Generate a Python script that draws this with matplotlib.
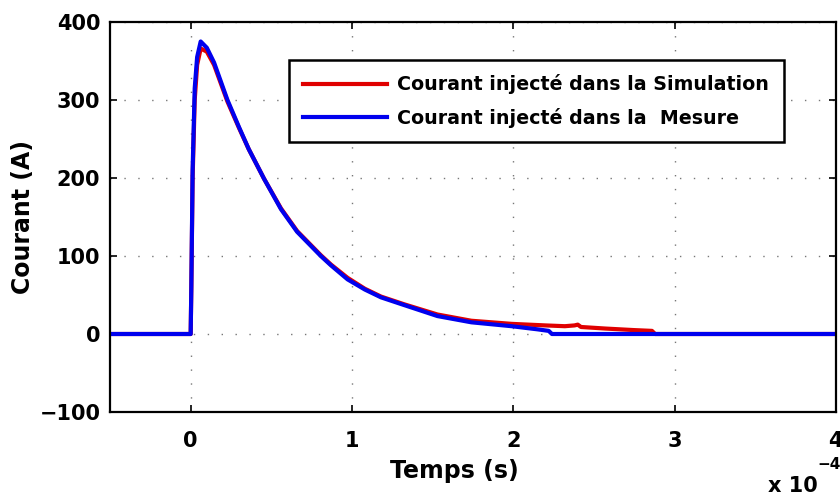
import matplotlib
matplotlib.use("Agg")
import matplotlib.pyplot as plt

# time in units of 1e-4 s
t_sim = [-0.5, 0.0, 0.004, 0.012, 0.025, 0.04, 0.062, 0.10, 0.145, 0.228, 0.30, 0.36,
         0.455, 0.56, 0.66, 0.807, 0.87, 0.973, 1.08, 1.18, 1.325, 1.53, 1.74, 1.99,
         2.2, 2.32, 2.38, 2.40, 2.42, 2.57, 2.75, 2.86, 2.88, 4.0]
i_sim = [0, 0, 60, 200, 300, 345, 366, 362, 345, 298, 264, 237,
         199, 161, 132, 101, 89, 72, 58, 48, 38, 25, 17, 13,
         11, 10, 11, 12, 9, 7, 5, 4, 0, 0]

t_mes = [-0.5, 0.0, 0.004, 0.012, 0.025, 0.04, 0.062, 0.10, 0.145, 0.228, 0.30, 0.36,
         0.455, 0.56, 0.66, 0.807, 0.87, 0.973, 1.08, 1.18, 1.325, 1.53, 1.74, 1.99,
         2.15, 2.22, 2.24, 4.0]
i_mes = [0, 0, 60, 210, 315, 355, 375, 367, 348, 300, 265, 237,
         199, 160, 131, 100, 88, 70, 57, 47, 37, 23, 15, 10,
         6, 4, 0, 0]

xticks = [0, 1, 2, 3, 4]
yticks = [-100, 0, 100, 200, 300, 400]

plt.rcParams['font.family'] = ['DejaVu Sans']
plt.rcParams['font.weight'] = 'bold'

fig = plt.figure(figsize=(8.4, 5.0), dpi=100)
ax = fig.add_axes([0.131, 0.176, 0.864, 0.780])

ax.plot(t_sim, i_sim, color='#e00000', lw=3, label='Courant injecté dans la Simulation')
ax.plot(t_mes, i_mes, color='#0000ee', lw=3, label='Courant injecté dans la  Mesure')

ax.set_xlim(-0.5, 4)
ax.set_ylim(-100, 400)
ax.set_xticks(xticks)
ax.set_yticks(yticks)
ax.set_xticklabels([str(v) for v in xticks], fontsize=15, fontweight='bold')
ax.set_yticklabels(['\u2212100' if v < 0 else str(v) for v in yticks], fontsize=15, fontweight='bold')
ax.tick_params(axis='x', direction='in', top=True, length=5, width=1.2, pad=14)
ax.tick_params(axis='y', direction='in', right=True, length=5, width=1.2, pad=7)
for s in ax.spines.values():
    s.set_linewidth(1.6)
ax.grid(True, linestyle=(0, (1, 9)), color='#777777', linewidth=1.0)

ax.set_xlabel('Temps (s)', fontsize=17, fontweight='bold')
ax.xaxis.set_label_coords(0.475, -0.12)
ax.set_ylabel('Courant (A)', fontsize=17, fontweight='bold')
ax.yaxis.set_label_coords(-0.104, 0.5)

leg = ax.legend(loc='upper left', bbox_to_anchor=(0.2466, 0.9026), borderaxespad=0,
                handlelength=4.4, handletextpad=0.55, borderpad=0.75, labelspacing=0.7,
                fancybox=False, framealpha=1, edgecolor='black',
                prop={'weight': 'bold', 'size': 13.7})
leg.get_frame().set_linewidth(1.8)

fig.text(0.914, 0.008, 'x 10', fontsize=15, fontweight='bold', ha='left', va='bottom')
fig.text(0.973, 0.056, '\u22124', fontsize=11, fontweight='bold', ha='left', va='bottom')

fig.savefig('out.png', dpi=100)
